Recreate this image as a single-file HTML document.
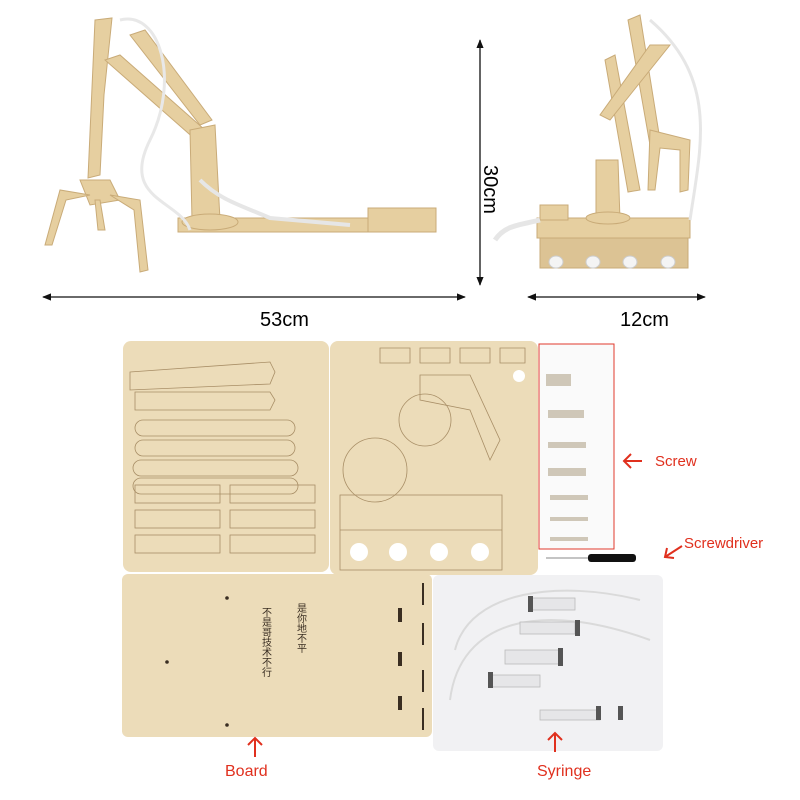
<!DOCTYPE html>
<html><head><meta charset="utf-8"><style>
html,body{margin:0;padding:0;background:#fff}
svg{display:block}
text{font-family:"Liberation Sans","Noto Sans CJK SC",sans-serif}
</style></head><body>
<svg width="800" height="800" viewBox="0 0 800 800" xmlns="http://www.w3.org/2000/svg">
<defs>
<marker id="ah" viewBox="0 0 10 10" refX="9" refY="5" markerWidth="7" markerHeight="7" orient="auto-start-reverse"><path d="M0,1 L10,5 L0,9 z" fill="#111"/></marker>
</defs>
<!-- left arm -->
<g fill="#e6cfa0" stroke="#c9ab78" stroke-width="1">
<rect x="178" y="218" width="225" height="14"/>
<rect x="368" y="208" width="68" height="24"/>
<polygon points="95,20 112,18 104,95 100,175 88,178"/>
<polygon points="105,60 120,55 205,130 196,140"/>
<polygon points="130,35 145,30 212,120 200,125"/>
<polygon points="190,130 215,125 220,220 192,220"/>
<ellipse cx="210" cy="222" rx="28" ry="8"/>
<polygon points="80,180 110,180 120,200 90,205"/>
<polygon points="90,195 60,190 45,245 52,245 66,200"/>
<polygon points="110,195 140,200 148,270 140,272 134,210"/>
<polygon points="95,200 100,200 105,230 98,230"/>
</g>
<path d="M120,20 C160,10 180,80 150,140 C120,200 180,200 190,230" fill="none" stroke="#e8e8e8" stroke-width="3"/>
<path d="M200,180 C220,200 240,205 270,218 L350,225" fill="none" stroke="#e6e6e6" stroke-width="4"/>
<!-- right arm -->
<g fill="#e6cfa0" stroke="#c9ab78" stroke-width="1">
<rect x="537" y="218" width="153" height="20"/>
<rect x="540" y="238" width="148" height="30" fill="#dcc394"/>
<polygon points="628,20 640,15 660,140 650,145"/>
<polygon points="605,60 615,55 640,190 628,192"/>
<polygon points="650,45 670,45 610,120 600,115"/>
<polygon points="596,160 618,160 620,220 596,220"/>
<ellipse cx="608" cy="218" rx="22" ry="6"/>
<polygon points="650,130 690,140 688,190 680,192 680,150 660,148 655,190 648,190"/>
<rect x="540" y="205" width="28" height="15"/>
</g>
<g fill="#f4f4f4" stroke="#ccc"><ellipse cx="556" cy="262" rx="7" ry="6"/><ellipse cx="593" cy="262" rx="7" ry="6"/><ellipse cx="630" cy="262" rx="7" ry="6"/><ellipse cx="668" cy="262" rx="7" ry="6"/></g>
<path d="M495,240 C505,225 520,225 540,220" fill="none" stroke="#e6e6e6" stroke-width="5"/>
<path d="M650,20 C720,80 700,150 690,220" fill="none" stroke="#e6e6e6" stroke-width="3"/>
<!-- dimensions -->
<line x1="480" y1="40" x2="480" y2="285" stroke="#111" stroke-width="1.3" marker-start="url(#ah)" marker-end="url(#ah)"/>
<text x="0" y="0" font-size="20" transform="translate(484,165) rotate(90)">30cm</text>
<line x1="43" y1="297" x2="465" y2="297" stroke="#111" stroke-width="1.3" marker-start="url(#ah)" marker-end="url(#ah)"/>
<text x="260" y="326" font-size="20">53cm</text>
<line x1="528" y1="297" x2="705" y2="297" stroke="#111" stroke-width="1.3" marker-start="url(#ah)" marker-end="url(#ah)"/>
<text x="620" y="326" font-size="20">12cm</text>
<!-- top boards -->
<rect x="123" y="341" width="206" height="231" rx="8" fill="#ecdcb9"/>
<rect x="330" y="341" width="208" height="234" rx="8" fill="#ecdcb9"/>
<g fill="none" stroke="#a88e66" stroke-width="0.8">
<polygon points="130,372 270,362 275,372 270,384 130,390"/><polygon points="135,392 270,392 275,400 270,410 135,410"/>
<rect x="135" y="420" width="160" height="16" rx="8"/><rect x="135" y="440" width="160" height="16" rx="8"/>
<rect x="133" y="460" width="165" height="16" rx="8"/><rect x="133" y="478" width="165" height="16" rx="8"/>
<rect x="135" y="485" width="85" height="18"/><rect x="135" y="510" width="85" height="18"/><rect x="135" y="535" width="85" height="18"/>
<rect x="230" y="485" width="85" height="18"/><rect x="230" y="510" width="85" height="18"/><rect x="230" y="535" width="85" height="18"/>
<circle cx="425" cy="420" r="26"/><circle cx="375" cy="470" r="32"/>
<path d="M420,375 L470,375 L500,440 L490,460 L470,410 L420,400 z"/>
<path d="M380,348 h30 v15 h-30z M420,348 h30 v15 h-30z M460,348 h30 v15 h-30z M500,348 h25 v15 h-25z"/>
<rect x="340" y="495" width="162" height="75"/><line x1="340" y1="530" x2="502" y2="530"/>
</g>
<g fill="#fff"><circle cx="359" cy="552" r="9"/><circle cx="398" cy="552" r="9"/><circle cx="439" cy="552" r="9"/><circle cx="480" cy="552" r="9"/><circle cx="519" cy="376" r="6"/></g>
<!-- screws -->
<rect x="539" y="344" width="75" height="205" fill="#fafafa" stroke="#e03a2c" stroke-width="1"/>
<g fill="#cfc7b8"><rect x="546" y="374" width="25" height="12"/><rect x="548" y="410" width="36" height="8"/><rect x="548" y="442" width="38" height="6"/><rect x="548" y="468" width="38" height="8"/><rect x="550" y="495" width="38" height="5"/><rect x="550" y="517" width="38" height="4"/><rect x="550" y="537" width="38" height="4"/></g>
<text x="655" y="466" font-size="15" fill="#e0301e">Screw</text>
<line x1="546" y1="558" x2="588" y2="558" stroke="#888" stroke-width="1"/>
<rect x="588" y="554" width="48" height="8" rx="3" fill="#111"/>
<text x="684" y="548" font-size="15" fill="#e0301e">Screwdriver</text>
<!-- bottom board -->
<rect x="122" y="574" width="310" height="163" rx="6" fill="#ecdcb9"/>
<g fill="#3a2e22"><circle cx="227" cy="598" r="1.8"/><circle cx="227" cy="725" r="1.8"/><circle cx="167" cy="662" r="1.8"/>
<rect x="398" y="608" width="4" height="14"/><rect x="398" y="652" width="4" height="14"/><rect x="398" y="696" width="4" height="14"/>
<rect x="422" y="583" width="2" height="22"/><rect x="422" y="623" width="2" height="22"/><rect x="422" y="670" width="2" height="22"/><rect x="422" y="708" width="2" height="22"/></g>
<text font-size="10" fill="#3a2e22" writing-mode="tb" x="267" y="607" style="font-family:'Noto Sans CJK SC',sans-serif">不是哥技术不行</text>
<text font-size="10" fill="#3a2e22" writing-mode="tb" x="302" y="603" style="font-family:'Noto Sans CJK SC',sans-serif">是你地不平</text>
<!-- bag -->
<rect x="433" y="575" width="230" height="176" rx="6" fill="#f1f1f3"/>
<path d="M455,650 C470,590 560,580 640,600" fill="none" stroke="#dadada" stroke-width="2"/>
<path d="M450,700 C460,620 540,600 650,640" fill="none" stroke="#dadada" stroke-width="2"/>
<g fill="#e6e6e8" stroke="#bbb" stroke-width="0.8">
<rect x="530" y="598" width="45" height="12"/><rect x="520" y="622" width="55" height="12"/><rect x="505" y="650" width="55" height="14"/><rect x="490" y="675" width="50" height="12"/><rect x="540" y="710" width="60" height="10"/></g>
<g fill="#555"><rect x="528" y="596" width="5" height="16"/><rect x="575" y="620" width="5" height="16"/><rect x="558" y="648" width="5" height="18"/><rect x="488" y="672" width="5" height="16"/><rect x="596" y="706" width="5" height="14"/><rect x="618" y="706" width="5" height="14"/></g>
<g stroke="#e0301e" stroke-width="2" fill="none">
<path d="M624,461 H642 M631,454 L624,461 L631,468"/>
<path d="M665,557 L682,546 M667,548 L665,557 L674,558"/>
<path d="M255,757 V738 M248,745 L255,738 L262,745"/>
<path d="M555,752 V733 M548,740 L555,733 L562,740"/>
</g>
<text x="225" y="776" font-size="16" fill="#e0301e">Board</text>
<text x="537" y="776" font-size="16" fill="#e0301e">Syringe</text>
</svg>
</body></html>
